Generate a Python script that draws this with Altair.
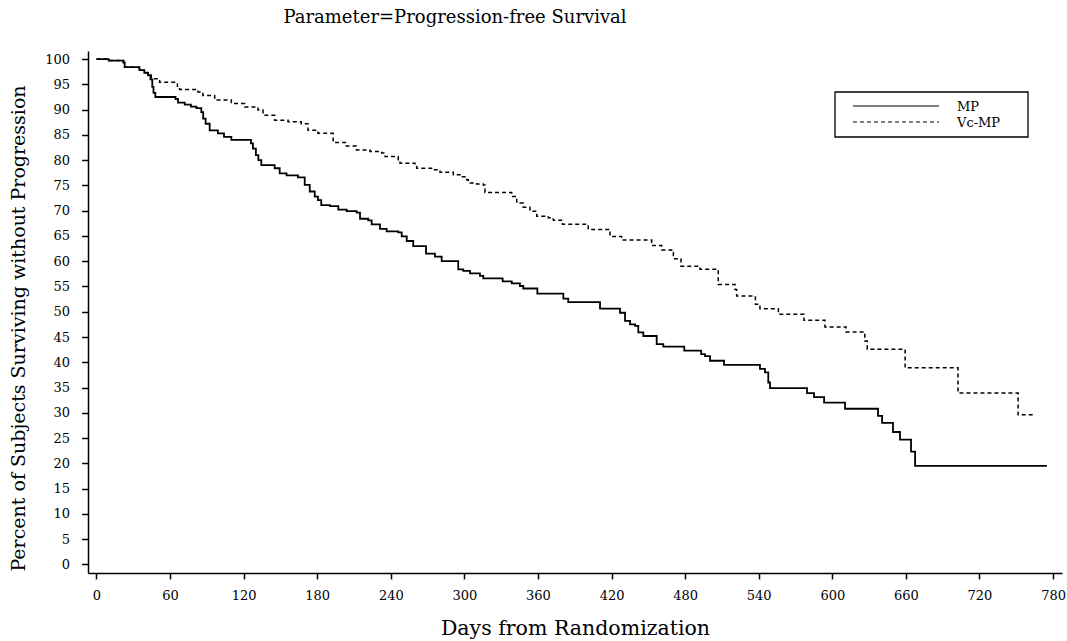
import altair as alt
import pandas as pd

# ---- data (Kaplan-Meier step curves) ----
series_names = ["MP", "Vc-MP"]

mp_days = [0, 10, 22, 23, 35, 39, 42, 44, 45.5, 46.5, 48, 64.5, 66.5, 72, 77, 81.5,
           85.5, 87, 89, 92.3, 99, 104, 110, 126, 127.6, 130, 132, 134.4, 145.3, 149.4,
           155, 164.3, 169.8, 173.9, 178, 180.6, 183.3, 190.4, 197.2, 204, 212.2, 214.9,
           221.6, 224.4, 231.2, 236.6, 246.1, 248.9, 253, 258.3, 268.7, 276, 281.5, 295,
           299.1, 304.6, 312.7, 315.4, 331.2, 338.6, 345.3, 348, 359.5, 380.7, 384.7,
           410.6, 426.9, 431, 435.1, 439.2, 441.8, 445.9, 456.8, 462.2, 479.3, 493.1,
           496.2, 500.3, 511.7, 541, 545.1, 547.8, 549.2, 579.4, 585.1, 593.3, 610.4,
           637.3, 640.6, 649.5, 655.2, 664.2, 667.5, 775]
mp_pct = [100, 99.7, 99.3, 98.4, 97.8, 97.3, 96.8, 96.0, 94.5, 93.3, 92.5, 92.1, 91.4,
          91.0, 90.6, 90.3, 89.5, 88.2, 87.2, 85.9, 85.3, 84.6, 84.0, 83.3, 82.3, 81.0,
          80.0, 79.0, 78.4, 77.4, 77.0, 76.6, 75.1, 73.8, 72.8, 72.1, 71.1, 70.9, 70.2,
          69.9, 69.6, 68.4, 68.1, 67.3, 66.4, 65.9, 65.7, 64.9, 64.0, 63.0, 61.5, 60.9,
          60.0, 58.4, 58.1, 57.6, 57.1, 56.6, 56.0, 55.6, 55.1, 54.6, 53.6, 52.6, 51.9,
          50.6, 49.8, 48.2, 47.5, 47.2, 45.9, 45.2, 43.6, 43.1, 42.3, 41.6, 41.2, 40.3,
          39.5, 38.7, 38.0, 36.0, 34.9, 33.9, 33.1, 32.0, 30.8, 29.4, 28.0, 26.2, 24.7,
          22.3, 19.5, 19.5]

vc_days = [0, 10, 22, 23, 35, 39, 42, 44.7, 51.5, 66, 67.8, 82.8, 86.8, 96.4, 110,
           120.9, 131.7, 135.8, 145.3, 156.2, 167, 172.5, 180.6, 193, 203, 212, 223,
           232.6, 235.3, 246.1, 247.5, 259.7, 261.1, 274.6, 280.1, 291, 296.4, 301.9,
           303.2, 310, 315.4, 316.8, 338.6, 342.7, 348, 353.5, 359, 368.4, 372.5, 380,
           401, 418.7, 428.3, 452.7, 460.9, 469, 470.4, 476.6, 492.1, 507, 520.7, 522,
           537.3, 541, 556, 576.9, 594, 611.2, 626.5, 628.5, 659.4, 702.5, 751.5, 764.5]
vc_pct = [100, 99.7, 99.3, 98.4, 97.8, 97.3, 96.8, 96.1, 95.4, 94.6, 94.0, 93.5, 92.8,
          91.9, 91.2, 90.5, 89.9, 88.9, 87.9, 87.6, 87.2, 85.9, 85.3, 83.5, 82.8, 82.0,
          81.7, 81.4, 80.7, 80.1, 79.4, 79.1, 78.4, 78.1, 77.6, 77.1, 76.7, 76.1, 75.5,
          75.3, 75.1, 73.6, 72.8, 71.5, 70.7, 69.9, 68.9, 68.6, 68.1, 67.3, 66.3, 64.9,
          64.2, 63.1, 62.2, 61.7, 60.5, 59.0, 58.4, 55.4, 54.4, 53.1, 51.5, 50.6, 49.5,
          48.3, 47.0, 46.0, 44.2, 42.6, 38.9, 33.9, 29.6, 29.6]

x_ticks = list(range(0, 781, 60))
y_ticks = list(range(0, 101, 5))

title_text = "Parameter=Progression-free Survival"
x_title = "Days from Randomization"
y_title = "Percent of Subjects Surviving without Progression"

df = pd.concat([
    pd.DataFrame({"day": mp_days, "pct": mp_pct, "Treatment": series_names[0]}),
    pd.DataFrame({"day": vc_days, "pct": vc_pct, "Treatment": series_names[1]}),
], ignore_index=True)
leg_df = pd.DataFrame({"Treatment": series_names})

FONT = "DejaVu Serif"
dash_scale = alt.Scale(domain=series_names, range=[[1, 0], [4, 3]])

lines = alt.Chart(df).mark_line(
    interpolate="step-after", color="black"
).encode(
    x=alt.X("day:Q",
            scale=alt.Scale(domain=[-6.9, 787.3], nice=False, zero=False),
            axis=alt.Axis(values=x_ticks, title=x_title, format="d",
                          labelPadding=10, tickSize=6,
                          titleY=61, titleBaseline="alphabetic",
                          titleFontSize=20.5)),
    y=alt.Y("pct:Q",
            scale=alt.Scale(domain=[-1.7, 101.6], nice=False, zero=False),
            axis=alt.Axis(values=y_ticks, title=y_title, format="d",
                          labelPadding=12, tickSize=6.5,
                          titleX=-60, titleY=277, titleFontSize=19)),
    strokeDash=alt.StrokeDash("Treatment:N", scale=dash_scale, legend=None),
    strokeWidth=alt.StrokeWidth("Treatment:N",
                                scale=alt.Scale(domain=series_names, range=[1.8, 1.5]),
                                legend=None),
)

# legend (box, sample lines, labels)
box = alt.Chart(leg_df.head(1)).mark_rect(
    fill="white", stroke="black", strokeWidth=1.3
).encode(x=alt.value(747), x2=alt.value(940), y=alt.value(41), y2=alt.value(86))

leg_layers = []
for name, yy in zip(series_names, [55, 71]):
    sub = alt.Chart(leg_df).transform_filter(alt.datum.Treatment == name)
    leg_layers.append(
        sub.mark_rule(color="black", strokeWidth=1.1).encode(
            x=alt.value(765), x2=alt.value(851), y=alt.value(yy),
            strokeDash=alt.StrokeDash("Treatment:N", scale=dash_scale, legend=None))
    )
    leg_layers.append(
        sub.mark_text(align="left", baseline="middle", font=FONT, fontSize=13,
                      color="black").encode(
            x=alt.value(869), y=alt.value(yy + 0.5), text="Treatment:N")
    )

chart = alt.layer(lines, box, *leg_layers).properties(
    width=974,
    height=522,
    title=alt.TitleParams(title_text, anchor="middle", dx=-120, offset=24,
                          font=FONT, fontSize=18, fontWeight="normal",
                          color="black"),
    autosize=alt.AutoSizeParams(type="none"),
    padding={"left": 88, "top": 51, "right": 5, "bottom": 68},
).configure_view(
    stroke=None
).configure_axis(
    grid=False,
    domainColor="black", domainWidth=1.5,
    tickColor="black", tickWidth=1.5,
    labelFont=FONT, labelFontSize=13, labelColor="black",
    labelOverlap=False, labelFlush=False,
    titleFont=FONT, titleFontWeight="normal", titleColor="black",
)

chart.save("out.html", embed_options={"renderer": "svg", "actions": False})
